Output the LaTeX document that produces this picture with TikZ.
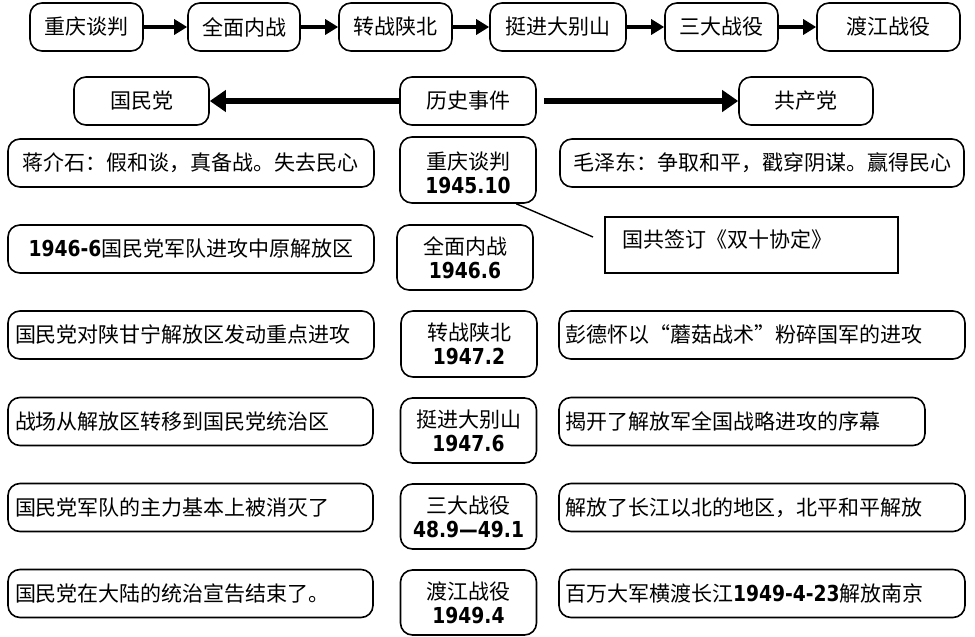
\documentclass[tikz,border=0pt]{standalone}
\usepackage{fontspec}
\setmainfont{Noto Sans CJK SC}
\newfontfamily\numfont{DejaVu Sans}[FakeStretch=0.85]
\usetikzlibrary{arrows.meta}
\newcommand{\nb}[1]{{\numfont\bfseries\fontsize{22}{24}\selectfont #1}}
\newcommand{\fq}[1]{{\addfontfeature{CharacterWidth=Full}#1}}

\begin{document}
\begin{tikzpicture}[x=1pt,y=-1pt,
    box/.style={draw,line width=1.6pt,rounded corners=12pt,minimum height=48pt,
      inner sep=0pt,font=\fontsize{21}{29}\selectfont},
    evt/.style={box,minimum height=66pt,minimum width=136pt,align=center,
      font=\fontsize{21}{24}\selectfont},
    toparr/.style={line width=4.5pt,-{Triangle[length=13pt,width=15pt]}},
    midarr/.style={line width=6pt,-{Triangle[length=16pt,width=21pt]}}]
  \useasboundingbox (0,0) rectangle (975,637);
  % top row
  \node[box,minimum width=113pt] (t1) at (86.5,27) {重庆谈判};
  \node[box,minimum width=112pt] (t2) at (244,27) {全面内战};
  \node[box,minimum width=113pt] (t3) at (395.5,27) {转战陕北};
  \node[box,minimum width=136pt] (t4) at (558,27) {挺进大别山};
  \node[box,minimum width=113pt] (t5) at (721.5,27) {三大战役};
  \node[box,minimum width=143pt] (t6) at (888.5,27) {渡江战役};
  \draw[toparr] (t1) -- (t2);
  \draw[toparr] (t2) -- (t3);
  \draw[toparr] (t3) -- (t4);
  \draw[toparr] (t4) -- (t5);
  \draw[toparr] (t5) -- (t6);
  % second row
  \node[box,minimum width=135pt] (gmd) at (141.5,101) {国民党};
  \node[box,minimum width=136pt] (lssj) at (468,101) {历史事件};
  \node[box,minimum width=134pt] (gcd) at (806,101) {共产党};
  \draw[midarr] (lssj) -- (gmd);
  \draw[midarr,shorten <=7pt] (lssj) -- (gcd);
  % events
  \node[evt] (m1) at (468,170) {\rule{0pt}{23pt}重庆谈判\\\nb{1945.10}};
  \node[evt,minimum height=65pt] (m2) at (465,257.5) {全面内战\\\nb{1946.6}};
  \node[evt] (m3) at (469,344) {转战陕北\\\nb{1947.2}};
  \node[evt,minimum height=65pt] (m4) at (468.5,430.5) {挺进大别山\\\nb{1947.6}};
  \node[evt,minimum height=65pt] (m5) at (468.5,516.5) {三大战役\\\nb{48.9—49.1}};
  \node[evt,minimum height=65pt] (m6) at (468.5,602.5) {渡江战役\\\nb{1949.4}};
  % left column
  \node[box,text width=366pt,align=center] (l1) at (191,163) {蒋介石：假和谈，真备战。失去民心};
  \node[box,text width=366pt,align=center] (l2) at (191,249) {\nb{1946-6}国民党军队进攻中原解放区};
  \node[box,text width=352pt,inner xsep=7pt,align=left] (l3) at (191,335) {国民党对陕甘宁解放区发动重点进攻};
  \node[box,text width=351pt,inner xsep=7pt,align=left] (l4) at (190.5,421.5) {战场从解放区转移到国民党统治区};
  \node[box,text width=351pt,inner xsep=7pt,align=left] (l5) at (190.5,507.5) {国民党军队的主力基本上被消灭了};
  \node[box,text width=351pt,inner xsep=7pt,align=left] (l6) at (190.5,593.5) {国民党在大陆的统治宣告结束了。};
  % right column
  \node[box,text width=404pt,align=center] (r1) at (762,163) {毛泽东：争取和平，戳穿阴谋。赢得民心};
  \node[draw,line width=1.6pt,minimum width=293pt,minimum height=56pt,text width=259pt,
    inner xsep=17pt,inner ysep=0pt,align=left,text depth=12pt,
    font=\fontsize{21}{29}\selectfont] (xd) at (751.5,245) {国共签订《双十协定》};
  \coordinate (xdend) at (593,237);
  \draw[line width=1.4pt] (m1.-35) -- (xdend);
  \node[box,text width=394pt,inner xsep=6pt,align=left] (r3) at (762,335) {彭德怀以\fq{“}蘑菇战术\fq{”}粉碎国军的进攻};
  \node[box,text width=354pt,inner xsep=6pt,align=left] (r4) at (742,421.5) {揭开了解放军全国战略进攻的序幕};
  \node[box,text width=394pt,inner xsep=6pt,align=left] (r5) at (762,507.5) {解放了长江以北的地区，北平和平解放};
  \node[box,text width=394pt,inner xsep=6pt,align=left] (r6) at (762,593.5) {百万大军横渡长江\nb{1949-4-23}解放南京};
\end{tikzpicture}
\end{document}
